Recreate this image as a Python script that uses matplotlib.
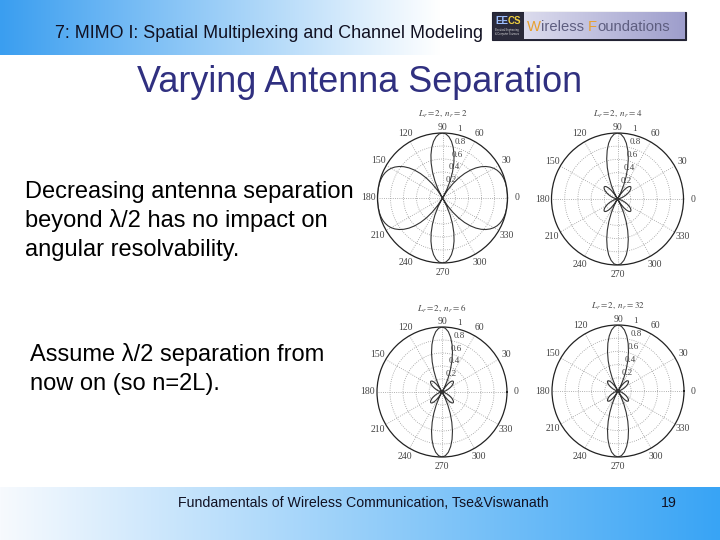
import matplotlib.pyplot as plt
import numpy as np
from matplotlib.patches import Rectangle

plt.rcParams['font.family'] = ['Liberation Sans', 'DejaVu Sans']
plt.rcParams['mathtext.fontset'] = 'stix'

# beam pattern |f(phi)| read at phi = 0, 3, ..., 90 deg; the pattern repeats in the other quadrants
phi_deg = np.arange(0, 91, 3)
gain_n2 = [1.000, 1.000, 1.000, 0.999, 0.998, 0.994, 0.988, 0.978, 0.963, 0.942, 0.913,
           0.874, 0.825, 0.765, 0.692, 0.606, 0.506, 0.395, 0.272, 0.140, 0.000,
           0.144, 0.289, 0.430, 0.565, 0.687, 0.794, 0.882, 0.947, 0.987, 1.000]
gain_n4 = [0.000, 0.002, 0.009, 0.019, 0.034, 0.053, 0.076, 0.102, 0.130, 0.161, 0.191,
           0.219, 0.244, 0.262, 0.272, 0.269, 0.251, 0.217, 0.164, 0.092, 0.000,
           0.109, 0.232, 0.364, 0.500, 0.631, 0.752, 0.856, 0.934, 0.984, 1.000]
gain_n6 = [0.000, 0.002, 0.007, 0.015, 0.027, 0.042, 0.060, 0.081, 0.105, 0.131, 0.158,
           0.184, 0.207, 0.226, 0.237, 0.238, 0.226, 0.198, 0.151, 0.085, 0.000,
           0.104, 0.223, 0.353, 0.488, 0.622, 0.745, 0.850, 0.932, 0.982, 1.000]
gain_n32 = [0.000, 0.001, 0.006, 0.013, 0.023, 0.035, 0.051, 0.070, 0.091, 0.114, 0.138,
            0.162, 0.184, 0.203, 0.215, 0.218, 0.208, 0.184, 0.142, 0.081, 0.000,
            0.100, 0.217, 0.345, 0.480, 0.614, 0.739, 0.846, 0.930, 0.982, 1.000]

panel_titles = [r'$L_r=2,\ n_r=2$', r'$L_r=2,\ n_r=4$', r'$L_r=2,\ n_r=6$', r'$L_r=2,\ n_r=32$']
panel_gains = [gain_n2, gain_n4, gain_n6, gain_n32]
# circle centre x, y and radius in pixels
panel_pos = [(442.5, 198, 65), (617.5, 199, 66), (442, 392, 65), (618, 391, 66)]
rtick_vals = [0.2, 0.4, 0.6, 0.8, 1.0]
rtick_labels = ['0.2', '0.4', '0.6', '0.8', '1']
angle_labels = ['0', '30', '60', '90', '120', '150', '180', '210', '240', '270', '300', '330']

W, H = 720, 540
fig = plt.figure(figsize=(7.2, 5.4), dpi=100)

# slide background, pixel coordinates
bg = fig.add_axes([0, 0, 1, 1])
bg.axis('off')

blue = np.array([58, 158, 240]) / 255
white = np.ones(3)
xs = np.linspace(0, 1, W)
t = np.clip(xs * W / 440, 0, 1)[:, None]
head = blue * (1 - t) + white * t
bg.imshow(head[None, :, :], extent=[0, W, 55, 0], aspect='auto')
foot_l = np.array([247, 250, 254]) / 255
foot_r = np.array([56, 164, 245]) / 255
foot = foot_l * (1 - xs[:, None]) + foot_r * xs[:, None]
bg.imshow(foot[None, :, :], extent=[0, W, 540, 487], aspect='auto')

bg.text(55, 33, '7: MIMO I: Spatial Multiplexing and Channel Modeling', fontsize=12.9,
        ha='left', va='center', color='#111122')

# logo
bg.add_patch(Rectangle((492, 12), 194, 28, facecolor='#2a2a3a', edgecolor='#222233', lw=0.8,
                       zorder=1))
logo = np.linspace([0.86, 0.86, 0.93], [0.62, 0.62, 0.80], 100)
bg.imshow(logo[None, :, :], extent=[524, 685, 39.5, 12.5], aspect='auto', zorder=2)
bg.set_xlim(0, W)
bg.set_ylim(H, 0)
bg.text(495, 21, 'EE', fontsize=7, fontweight='bold', color='#9fc0ff', ha='left', va='center',
        zorder=3)
bg.text(508, 21, 'CS', fontsize=7, fontweight='bold', color='#f0d040', ha='left', va='center',
        zorder=3)
bg.text(495, 32, 'Electrical Engineering\n& Computer Sciences', fontsize=1.8, color='#dddddd',
        ha='left', va='center', zorder=3)

renderer = fig.canvas.get_renderer()
x_cur = 527
for part, col in [('W', '#e8a030'), ('ireless ', '#5e5e80'), ('F', '#e8a030'),
                  ('oundations', '#5e5e80')]:
    tx = bg.text(x_cur, 27, part, fontsize=10.6, color=col, ha='left', va='center', zorder=3)
    ext = tx.get_window_extent(renderer)
    x_cur = bg.transData.inverted().transform((ext.x1, ext.y0))[0]

bg.text(360, 82, 'Varying Antenna Separation', fontsize=25.9, ha='center', va='center',
        color='#303080')

body = ['Decreasing antenna separation', 'beyond \u03bb/2 has no impact on',
        'angular resolvability.']
for i, line in enumerate(body):
    bg.text(25, 192 + 29 * i, line, fontsize=17, ha='left', va='center', color='black')
body2 = ['Assume \u03bb/2 separation from', 'now on (so n=2L).']
for i, line in enumerate(body2):
    bg.text(30, 355 + 29 * i, line, fontsize=17, ha='left', va='center', color='black')

bg.text(178, 503, 'Fundamentals of Wireless Communication, Tse&Viswanath', fontsize=10.2,
        ha='left', va='center', color='#111122')
bg.text(669, 503, '19', fontsize=10.2, ha='center', va='center', color='#111122')

serif = ['Liberation Serif', 'DejaVu Serif']
phi = np.radians(phi_deg)
circ = np.linspace(0, 2 * np.pi, 200)
for title, gains, (cx, cy, r) in zip(panel_titles, panel_gains, panel_pos):
    ax = fig.add_axes([(cx - r) / W, (H - cy - r) / H, 2 * r / W, 2 * r / H], projection='polar')
    ax.set_facecolor('white')
    ax.set_xticks([])
    ax.set_yticks([])
    ax.grid(False)
    ax.spines['polar'].set_linewidth(0.9)
    ax.spines['polar'].set_color('#222222')

    for rv in rtick_vals[:-1]:
        ax.plot(circ, np.full_like(circ, rv), ls=':', lw=0.6, color='#999999')
    for a in range(0, 180, 30):
        ax.plot([np.radians(a), 0, np.radians(a + 180)], [1, 0, 1], ls=':', lw=0.6,
                color='#999999')
    for rv, lab in zip(rtick_vals, rtick_labels):
        ax.text(np.radians(77), rv + 0.02, lab, fontsize=6.5, family=serif, color='#444444',
                ha='left', va='bottom')
    for k, lab in enumerate(angle_labels):
        rl = 1.08 if lab == '90' else 1.14
        ax.text(np.radians(30 * k), rl, lab, fontsize=7, family=serif, color='#444444',
                ha='center', va='center', clip_on=False)

    g = np.array(gains)
    th = np.concatenate([phi, np.pi - phi[::-1], np.pi + phi, 2 * np.pi - phi[::-1]])
    rr = np.concatenate([g, g[::-1], g, g[::-1]])
    ax.plot(th, rr, color='#333333', lw=0.8)
    ax.set_ylim(0, 1)

    bg.text(cx, cy - r - 19, title, fontsize=6.5, ha='center', va='center', color='#444444')

fig.savefig('out.png', dpi=100)
